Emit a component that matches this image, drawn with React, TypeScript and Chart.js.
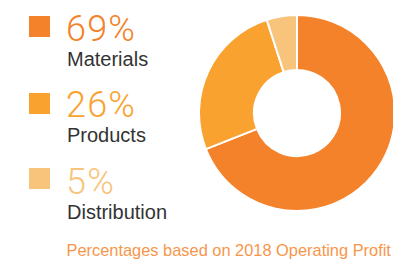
import React, { useEffect, useRef } from "react";
import { Chart, registerables } from "chart.js";

Chart.register(...registerables);

const categories = ["Materials", "Products", "Distribution"];
const shares = [69, 26, 5];
const colors = ["#F4822A", "#F9A22F", "#F8C47B"];
const footnote = "Percentages based on 2018 Operating Profit";

const pctBaselines = [41.7, 117.3, 194.3];
const labelBaselines = [66, 141.7, 219.3];
const squareTops = [16, 93, 168];

const CX = 296.7;
const CY = 112.8;
const SIZE = 198;

export default function App() {
  const ref = useRef<HTMLCanvasElement>(null);

  useEffect(() => {
    document.body.style.margin = "0";
    const ctx = ref.current!;
    const chart = new Chart(ctx, {
      type: "doughnut",
      data: {
        labels: categories,
        datasets: [
          {
            data: shares,
            backgroundColor: colors,
            borderColor: "#ffffff",
            borderWidth: 2,
          },
        ],
      },
      options: {
        responsive: false,
        animation: false,
        cutout: 43,
        events: [],
        layout: { padding: 0 },
        plugins: {
          legend: { display: false },
          tooltip: { enabled: false },
        },
      },
    });
    return () => chart.destroy();
  }, []);

  const pctSize = 36;
  const labSize = 20;
  const footSize = 16.4;
  const k = 0.8465;

  return (
    <div
      style={{
        position: "relative",
        width: 393,
        height: 261,
        overflow: "hidden",
        background: "#fff",
      }}
    >
      <div
        style={{
          position: "absolute",
          left: CX - SIZE / 2,
          top: CY - SIZE / 2,
          width: SIZE,
          height: SIZE,
        }}
      >
        <canvas ref={ref} width={SIZE} height={SIZE} />
      </div>
      {categories.map((c, i) => (
        <React.Fragment key={c}>
          <div
            style={{
              position: "absolute",
              left: 29,
              top: squareTops[i],
              width: 21,
              height: 21,
              background: colors[i],
            }}
          />
          <div
            style={{
              position: "absolute",
              left: 66,
              top: pctBaselines[i] - k * pctSize,
              fontFamily: "Roboto, 'Liberation Sans', sans-serif",
              fontWeight: 300,
              fontSize: pctSize,
              lineHeight: 1,
              letterSpacing: 1.2,
              color: colors[i],
              whiteSpace: "nowrap",
            }}
          >
            {shares[i]}%
          </div>
          <div
            style={{
              position: "absolute",
              left: 67,
              top: labelBaselines[i] - k * labSize,
              fontFamily: "'Liberation Sans', Arial, sans-serif",
              fontSize: labSize,
              lineHeight: 1,
              color: "#333333",
              whiteSpace: "nowrap",
            }}
          >
            {c}
          </div>
        </React.Fragment>
      ))}
      <div
        style={{
          position: "absolute",
          left: 66.5,
          top: 255.5 - k * footSize,
          fontFamily: "'Liberation Sans', Arial, sans-serif",
          fontSize: footSize,
          lineHeight: 1,
          color: "#F7964B",
          whiteSpace: "nowrap",
        }}
      >
        {footnote}
      </div>
    </div>
  );
}
